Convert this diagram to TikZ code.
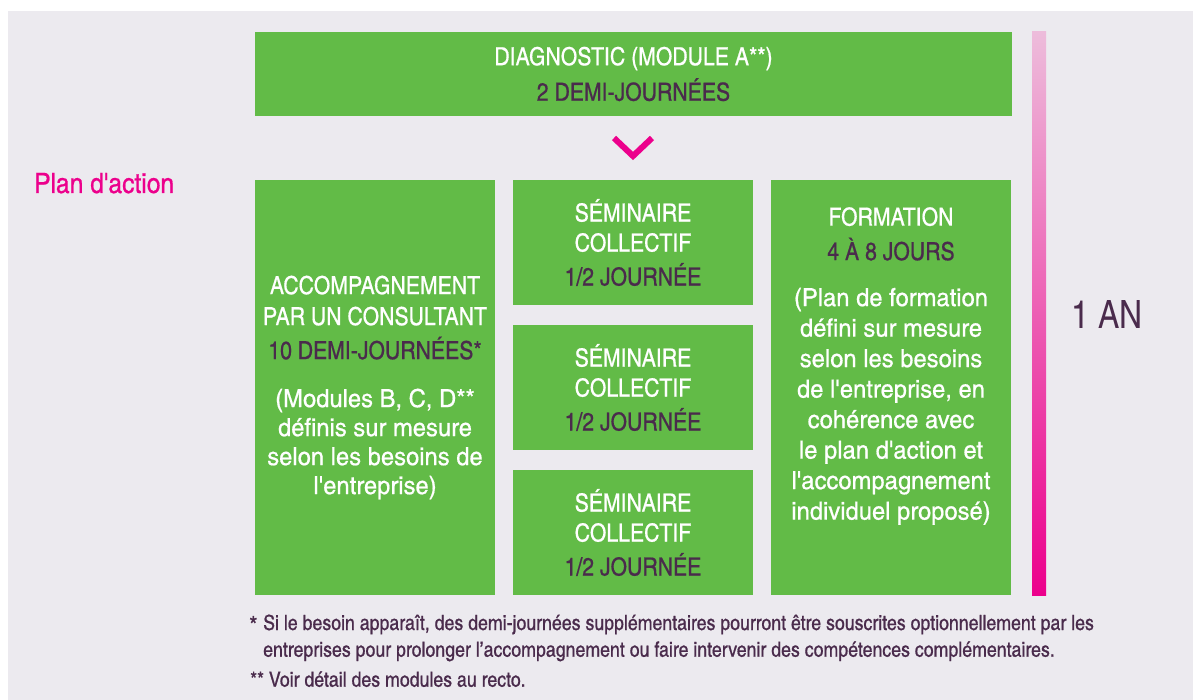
\documentclass[tikz,border=0pt]{standalone}
\usepackage{fontspec}
\setmainfont{TeX Gyre Heros}
\newfontfamily\cnfont{texgyreheroscn}[Extension=.otf, UprightFont=*-regular, FakeStretch=1.035, FakeBold=0.6]
\newfontfamily\parafont{texgyreheroscn}[Extension=.otf, UprightFont=*-regular, FakeStretch=1.16, FakeBold=0.6]
\newfontfamily\footfont{texgyreheroscn}[Extension=.otf, UprightFont=*-regular, FakeStretch=1.03, FakeBold=0.7]
\newfontfamily\planfont{texgyreheroscn}[Extension=.otf, UprightFont=*-regular, FakeStretch=1.07, FakeBold=0.7]
\newfontfamily\anfont{texgyreheroscn}[Extension=.otf, UprightFont=*-regular]
\definecolor{boxgreen}{HTML}{62BB47}
\definecolor{bggray}{HTML}{ECEAEF}
\definecolor{darktxt}{HTML}{4A2B4C}
\definecolor{mag}{HTML}{EC008C}
\definecolor{pinktop}{HTML}{EDBCDB}
\begin{document}
\begin{tikzpicture}[x=1pt,y=-1pt,
  box/.style={fill=boxgreen, draw=none, inner sep=0pt, text=white, align=center,
    font=\cnfont\fontsize{25}{30}\selectfont},
  boxtext/.style={inner sep=0pt, text=white, align=center, font=\cnfont\fontsize{25}{30.5}\selectfont},
  foot/.style={inner sep=0pt, text=darktxt, font=\footfont\fontsize{21}{23}\selectfont}]
\useasboundingbox (0,0) rectangle (1193,700);
\fill[white] (0,0) rectangle (1193,700);
\fill[bggray] (8,11) rectangle (1193,700);
% top box
\node[box, minimum width=757pt, minimum height=84pt] (diag) at (633.5,74)
  {DIAGNOSTIC (MODULE A**)\\[5.5pt]\textcolor{darktxt}{2 DEMI-JOURNÉES}};
% chevron
\coordinate (chevL) at (614,138);
\coordinate (chevB) at (633,156);
\coordinate (chevR) at (652,138);
\draw[mag, line width=6pt] (chevL) -- (chevB) -- (chevR);
% plan d'action
\node[anchor=base west, inner sep=0pt, text=mag, font=\planfont\fontsize{28}{30}\selectfont] (plan) at (34,193) {Plan d'action};
% left box
\node[box, minimum width=240pt, minimum height=415pt, font=\cnfont\fontsize{25}{29}\selectfont] (accomp) at (375,387.5)
  {ACCOMPAGNEMENT\\[2pt]PAR UN CONSULTANT\\[5pt]\textcolor{darktxt}{10 DEMI-JOURNÉES*}\\[19pt]
   \parafont(Modules B, C, D**\\\parafont définis sur mesure\\\parafont selon les besoins de\\\parafont l'entreprise)};
% middle boxes
\node[box, minimum width=240pt, minimum height=125pt] (sem1) at (633,242.5)
  {SÉMINAIRE\\COLLECTIF\\[4pt]\textcolor{darktxt}{1/2 JOURNÉE}};
\node[box, minimum width=240pt, minimum height=125pt] (sem2) at (633,387.5)
  {SÉMINAIRE\\COLLECTIF\\[4pt]\textcolor{darktxt}{1/2 JOURNÉE}};
\node[box, minimum width=240pt, minimum height=125pt] (sem3) at (633,532.5)
  {SÉMINAIRE\\COLLECTIF\\[4pt]\textcolor{darktxt}{1/2 JOURNÉE}};
% right box
\node[box, minimum width=240pt, minimum height=415pt] (form) at (891,387.5) {};
\node[boxtext, anchor=north] (formtxt) at (891,207)
  {FORMATION\\[4pt]\textcolor{darktxt}{4 À 8 JOURS}\\[15.5pt]
   \parafont(Plan de formation\\\parafont défini sur mesure\\\parafont selon les besoins\\\parafont de l'entreprise, en\\\parafont cohérence avec\\\parafont le plan d'action et\\\parafont l'accompagnement\\\parafont individuel proposé)};
% time bar
\shade[top color=pinktop, bottom color=mag] (1032,32) rectangle (1046,595);
\node[anchor=base, inner sep=0pt, text=darktxt, font=\anfont\fontsize{39}{40}\selectfont] (an) at (1107,328) {1 AN};
% footnotes
\node[anchor=base west, inner sep=0pt, text=darktxt, font=\footfont\fontsize{25}{25}\selectfont] (star) at (249,634) {*};
\node[foot, anchor=base west] (fn1a) at (263,630) {Si le besoin apparaît, des demi-journées supplémentaires pourront être souscrites optionnellement par les};
\node[foot, anchor=base west] (fn1b) at (263,656.7) {entreprises pour prolonger l’accompagnement ou faire intervenir des compétences complémentaires.};
\node[foot, anchor=base west] (fn2) at (250,686.7) {** Voir détail des modules au recto.};
\end{tikzpicture}
\end{document}
